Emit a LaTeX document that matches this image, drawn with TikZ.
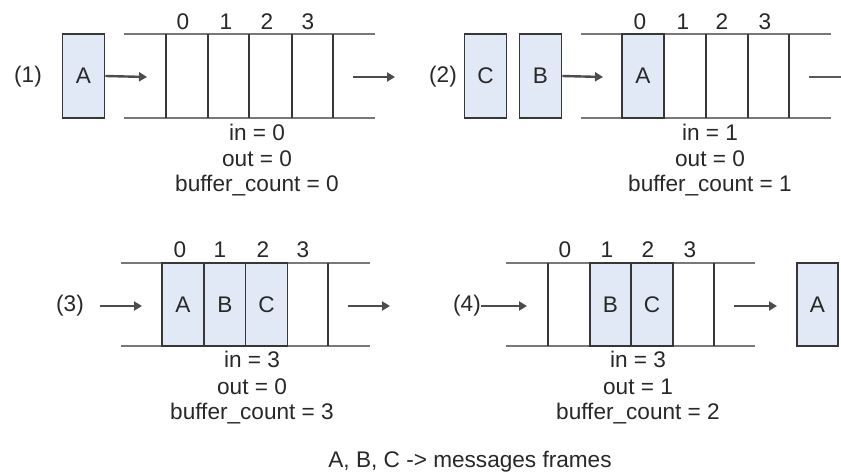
\documentclass[tikz,border=0pt]{standalone}
\usepackage{fontspec}
\setmainfont{Liberation Sans}
\usetikzlibrary{arrows.meta}
\definecolor{msgfill}{RGB}{226,233,246}
\definecolor{railc}{RGB}{120,120,120}
\definecolor{sepc}{RGB}{55,55,55}
\definecolor{txt}{RGB}{40,40,40}
\begin{document}
\begin{tikzpicture}[x=1pt,y=-1pt,
  every node/.style={font=\fontsize{22.6}{26}\selectfont, text=txt, inner sep=0pt},
  rail/.style={draw=railc, line width=2.6pt},
  sepline/.style={draw=sepc, line width=1.8pt},
  msg/.style={draw=sepc, fill=msgfill, line width=1.8pt, minimum width=42pt, minimum height=84pt},
  cellbox/.style={draw=sepc, fill=msgfill, line width=1.8pt, minimum width=42pt, minimum height=84pt},
  arr/.style={draw=black!70, line width=2.4pt, -{Triangle[length=8pt,width=9pt]}},
  plainline/.style={draw=black!65, line width=2.4pt},
  idx/.style={},
  stat/.style={}
]
\useasboundingbox (0,0) rectangle (841,473);
\fill[white] (0,0) rectangle (841,473);

% ---------------- Panel 1 ----------------
\node (p1) at (28,77) {(1)};
\node[msg] (p1A) at (83.5,76) {A};
\coordinate (p1tl) at (124,34); \coordinate (p1tr) at (375,34);
\coordinate (p1bl) at (124,118); \coordinate (p1br) at (375,118);
\draw[rail] (p1tl) -- (p1tr);
\draw[rail] (p1bl) -- (p1br);
\foreach \x/\n in {166/a,208/b,249/c,292/d,333/e}{
  \coordinate (p1s\n t) at (\x,34); \coordinate (p1s\n b) at (\x,118);
  \draw[sepline] (p1s\n t) -- (p1s\n b);
}
\node[idx] (p1i0) at (183,22) {0};
\node[idx] (p1i1) at (226,22) {1};
\node[idx] (p1i2) at (267,22) {2};
\node[idx] (p1i3) at (308,22) {3};
\coordinate (p1inB) at (147,77);
\draw[arr] (p1A.east) -- (p1inB);
\coordinate (p1o1) at (353,77); \coordinate (p1o2) at (395,77);
\draw[arr] (p1o1) -- (p1o2);
\node[stat] (p1in) at (257,132) {in = 0};
\node[stat] (p1out) at (257,159) {out = 0};
\node[stat] (p1bc) at (257,186) {buffer\_count = 0};

% ---------------- Panel 2 ----------------
\node (p2) at (443,77) {(2)};
\node[msg] (p2C) at (485.5,76) {C};
\node[msg] (p2B) at (540.5,76) {B};
\coordinate (p2tl) at (581,34); \coordinate (p2tr) at (831,34);
\coordinate (p2bl) at (581,118); \coordinate (p2br) at (831,118);
\draw[rail] (p2tl) -- (p2tr);
\draw[rail] (p2bl) -- (p2br);
\node[cellbox] (p2A) at (643,76) {A};
\foreach \x/\n in {706/a,748/b,789/c}{
  \coordinate (p2s\n t) at (\x,34); \coordinate (p2s\n b) at (\x,118);
  \draw[sepline] (p2s\n t) -- (p2s\n b);
}
\node[idx] (p2i0) at (640,22) {0};
\node[idx] (p2i1) at (683,22) {1};
\node[idx] (p2i2) at (722,22) {2};
\node[idx] (p2i3) at (765,22) {3};
\coordinate (p2inB) at (603,77);
\draw[arr] (p2B.east) -- (p2inB);
\coordinate (p2o1) at (809,77); \coordinate (p2o2) at (841,77);
\draw[plainline] (p2o1) -- (p2o2);
\node[stat] (p2in) at (710,132) {in = 1};
\node[stat] (p2out) at (710,159) {out = 0};
\node[stat] (p2bc) at (710,186) {buffer\_count = 1};

% ---------------- Panel 3 ----------------
\node (p3) at (70,306) {(3)};
\coordinate (p3tl) at (121,263); \coordinate (p3tr) at (370,263);
\coordinate (p3bl) at (121,346); \coordinate (p3br) at (370,346);
\draw[rail] (p3tl) -- (p3tr);
\draw[rail] (p3bl) -- (p3br);
\node[cellbox, minimum height=83pt] (p3A) at (183,304.5) {A};
\node[cellbox, minimum height=83pt] (p3B) at (225,304.5) {B};
\node[cellbox, minimum height=83pt] (p3C) at (266.5,304.5) {C};
\coordinate (p3sat) at (328,263); \coordinate (p3sab) at (328,346);
\draw[sepline] (p3sat) -- (p3sab);
\node[idx] (p3i0) at (180,250) {0};
\node[idx] (p3i1) at (220,250) {1};
\node[idx] (p3i2) at (263,250) {2};
\node[idx] (p3i3) at (303,250) {3};
\coordinate (p3a1) at (100,306); \coordinate (p3a2) at (142,306);
\draw[arr] (p3a1) -- (p3a2);
\coordinate (p3o1) at (348,306); \coordinate (p3o2) at (390,306);
\draw[arr] (p3o1) -- (p3o2);
\node[stat] (p3in) at (252,359) {in = 3};
\node[stat] (p3out) at (252,387) {out = 0};
\node[stat] (p3bc) at (252,414) {buffer\_count = 3};

% ---------------- Panel 4 ----------------
\node (p4) at (467,306) {(4)};
\coordinate (p4tl) at (506,263); \coordinate (p4tr) at (755,263);
\coordinate (p4bl) at (506,346); \coordinate (p4br) at (755,346);
\draw[rail] (p4tl) -- (p4tr);
\draw[rail] (p4bl) -- (p4br);
\foreach \x/\n in {548/a,714/b}{
  \coordinate (p4s\n t) at (\x,263); \coordinate (p4s\n b) at (\x,346);
  \draw[sepline] (p4s\n t) -- (p4s\n b);
}
\node[cellbox, minimum height=83pt, minimum width=41pt] (p4B) at (610.5,304.5) {B};
\node[cellbox, minimum height=83pt] (p4C) at (652,304.5) {C};
\node[idx] (p4i0) at (565,250) {0};
\node[idx] (p4i1) at (607,250) {1};
\node[idx] (p4i2) at (648,250) {2};
\node[idx] (p4i3) at (690,250) {3};
\coordinate (p4a2) at (527,306);
\draw[arr] (p4.east) -- (p4a2);
\coordinate (p4o1) at (734,306); \coordinate (p4o2) at (777,306);
\draw[arr] (p4o1) -- (p4o2);
\node[msg, minimum width=41pt, minimum height=83pt] (p4A) at (817.5,304.5) {A};
\node[stat] (p4in) at (638,359) {in = 3};
\node[stat] (p4out) at (638,387) {out = 1};
\node[stat] (p4bc) at (638,414) {buffer\_count = 2};

% caption
\node[anchor=base] (cap) at (470,467) {A, B, C -> messages frames};
\end{tikzpicture}
\end{document}
